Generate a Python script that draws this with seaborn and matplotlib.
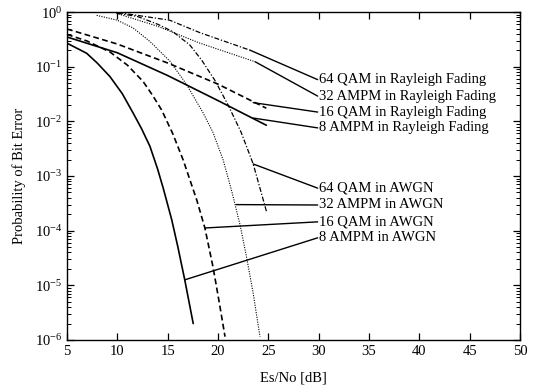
import numpy as np
import pandas as pd
import matplotlib
matplotlib.use("Agg")
import matplotlib.pyplot as plt
from matplotlib.ticker import FixedLocator, LogLocator, NullFormatter, FuncFormatter
import seaborn as sns

# ---- data (Es/No in dB, probability of bit error) ----
awgn_8ampm_db = [5, 6.96, 8, 9.27, 10.5, 11.58, 12.4, 13.24, 14, 14.56, 15.4, 16, 16.7, 17.54]
awgn_8ampm_ber = [2.7e-1, 1.76e-1, 1.17e-1, 6.6e-2, 3.2e-2, 1.41e-2, 7.4e-3, 3.5e-3,
                  1.35e-3, 6.0e-4, 1.6e-4, 5.2e-5, 1.26e-5, 2.0e-6]

awgn_16qam_db = [5, 7, 9.27, 11, 12.55, 13.5, 14.4, 15.5, 16.55, 17.9, 18.7, 19.5, 20.1, 20.7]
awgn_16qam_ber = [3.9e-1, 2.95e-1, 1.86e-1, 1.07e-1, 5.4e-2, 3.0e-2, 1.62e-2, 6.0e-3,
                  1.95e-3, 3.6e-4, 1.12e-4, 2.2e-5, 5.2e-6, 1.15e-6]

awgn_32ampm_db = [7.95, 10, 11.58, 13.24, 15.23, 16.89, 18.54, 19.5, 20.52, 21.4,
                  22.2, 22.85, 23.5, 24.17]
awgn_32ampm_ber = [8.7e-1, 7.1e-1, 5.1e-1, 2.9e-1, 1.26e-1, 4.7e-2, 1.41e-2, 6.3e-3,
                   1.95e-3, 5.0e-4, 1.26e-4, 3.2e-5, 7.1e-6, 1.15e-6]

awgn_64qam_db = [10, 12, 14, 15.5, 17.2, 18.38, 19.7, 21, 22.3, 23.5, 24.83]
awgn_64qam_ber = [9.5e-1, 8.3e-1, 6.0e-1, 4.4e-1, 2.5e-1, 1.32e-1, 5.6e-2, 2.0e-2,
                  6.3e-3, 1.66e-3, 2.2e-4]

ray_8ampm_db = [5, 10, 15, 20, 24.8]
ray_8ampm_ber = [0.35, 0.18, 6.9e-2, 2.4e-2, 8.5e-3]

ray_16qam_db = [5, 10, 15, 20, 24.8]
ray_16qam_ber = [0.49, 0.26, 0.117, 4.8e-2, 1.74e-2]

ray_32ampm_db = [9.9, 14, 18.2, 23.7]
ray_32ampm_ber = [0.95, 0.55, 0.27, 0.123]

ray_64qam_db = [10.1, 15.2, 18.2, 23.2]
ray_64qam_ber = [0.98, 0.71, 0.42, 0.2]

labels = ["64 QAM in Rayleigh Fading", "32 AMPM in Rayleigh Fading",
          "16 QAM in Rayleigh Fading", "8 AMPM in Rayleigh Fading",
          "64 QAM in AWGN", "32 AMPM in AWGN", "16 QAM in AWGN", "8 AMPM in AWGN"]
label_ber = [5.8e-2, 2.9e-2, 1.48e-2, 7.6e-3, 6.0e-4, 2.95e-4, 1.45e-4, 7.4e-5]
leader_db = [23.2, 23.7, 23.5, 23.5, 23.5, 21.8, 18.7, 16.7]
leader_ber = [0.2, 0.123, 2.2e-2, 1.15e-2, 1.66e-3, 3.0e-4, 1.12e-4, 1.26e-5]

x_ticks = [5, 10, 15, 20, 25, 30, 35, 40, 45, 50]
y_ticks = [1e-6, 1e-5, 1e-4, 1e-3, 1e-2, 1e-1, 1e0]

# ---- styling ----
sns.set_theme(style="ticks")
plt.rcParams["font.family"] = ["Liberation Serif", "DejaVu Serif"]
plt.rcParams["mathtext.fontset"] = "custom"
plt.rcParams["mathtext.rm"] = "Liberation Serif"
plt.rcParams["mathtext.it"] = "Liberation Serif:italic"
plt.rcParams["mathtext.bf"] = "Liberation Serif:bold"

fig = plt.figure(figsize=(5.40, 3.89), dpi=100)
ax = fig.add_axes([0.124, 0.126, 0.839, 0.843])

series = [
    (awgn_8ampm_db, awgn_8ampm_ber, "-", 1.2),
    (awgn_16qam_db, awgn_16qam_ber, (0, (3.5, 2)), 1.2),
    (awgn_32ampm_db, awgn_32ampm_ber, (0, (1, 1.2)), 0.8),
    (awgn_64qam_db, awgn_64qam_ber, (0, (4, 1.5, 1, 1.5)), 0.9),
    (ray_8ampm_db, ray_8ampm_ber, "-", 1.2),
    (ray_16qam_db, ray_16qam_ber, (0, (3.5, 2)), 1.2),
    (ray_32ampm_db, ray_32ampm_ber, (0, (1, 1.2)), 0.8),
    (ray_64qam_db, ray_64qam_ber, (0, (4, 1.5, 1, 1.5)), 0.9),
]
for xs, ys, ls, lw in series:
    df = pd.DataFrame({"db": xs, "ber": ys})
    sns.lineplot(data=df, x="db", y="ber", ax=ax, color="black",
                 linestyle=ls, linewidth=lw, sort=False, estimator=None)

ax.set_yscale("log")
ax.set_xlim(5, 50)
ax.set_ylim(1e-6, 1)

for txt, ly, sx, sy in zip(labels, label_ber, leader_db, leader_ber):
    ax.annotate("", xy=(sx, sy), xytext=(29.9, ly),
                arrowprops=dict(arrowstyle="-", color="black", lw=1.0,
                                shrinkA=0, shrinkB=0))
    ax.text(30.0, ly, txt, ha="left", va="center", fontsize=10.5, color="black")

ax.xaxis.set_major_locator(FixedLocator(x_ticks))
ax.yaxis.set_major_locator(FixedLocator(y_ticks))
ax.yaxis.set_minor_locator(LogLocator(base=10, subs=np.arange(2, 10)))
ax.yaxis.set_minor_formatter(NullFormatter())
ax.yaxis.set_major_formatter(FuncFormatter(
    lambda v, p: r"$\mathregular{10^{%d}}$" % int(round(np.log10(v)))))
ax.tick_params(axis="both", which="both", direction="in", top=True, right=True,
               colors="black", labelsize=10.5)
ax.tick_params(axis="both", which="major", length=5, width=0.9)
ax.tick_params(axis="y", which="minor", length=3, width=0.7)
for s in ax.spines.values():
    s.set_color("black")
    s.set_linewidth(1.0)

ax.set_xlabel("Es/No [dB]", fontsize=10.5, color="black", labelpad=10)
ax.set_ylabel("Probability of Bit Error", fontsize=10.5, color="black", labelpad=6)

fig.savefig("out.png", dpi=100, facecolor="white")
